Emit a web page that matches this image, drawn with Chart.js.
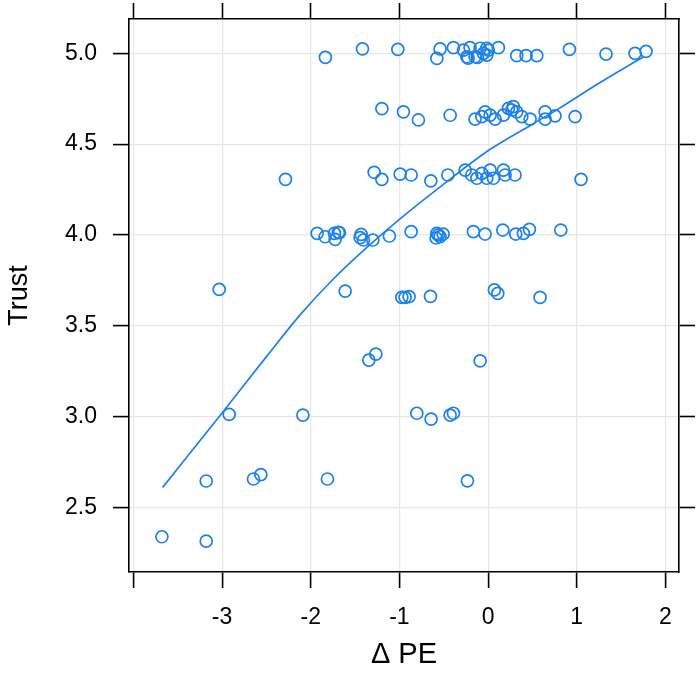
<!DOCTYPE html>
<html>
<head>
<meta charset="utf-8">
<script src="https://cdn.jsdelivr.net/npm/chart.js@4"></script>
<style>
html,body{margin:0;padding:0;background:#fff;}
canvas{display:block;}
</style>
</head>
<body>
<canvas id="c" width="700" height="684"></canvas>
<script>
// ---- data ----
const deltaPE = [
  -1.835, -1.417, -1.018, -0.578, -0.541, -0.391, -0.278, -0.240, -0.203, -0.147, -0.090, -0.053, -0.015, 0.003, -0.015, 0.116, 0.323, 0.428, 0.549, -0.121, -0.225, 0.917, 1.330, 1.657, 1.781,
  -1.198, -0.955, -0.786, -0.428, -0.147, -0.071, -0.034, 0.023, 0.079, 0.173, 0.229, 0.267, 0.285, 0.323, 0.380, 0.474, 0.643, 0.643, 0.755, 0.981,
  -2.285, -1.285, -1.198, -0.992, -0.868, -0.646, -0.454, -0.259, -0.184, -0.127, -0.071, -0.015, 0.023, 0.060, 0.173, 0.192, 0.304, 1.048,
  -1.928, -1.838, -1.733, -1.688, -1.725, -1.676, -1.432, -1.443, -1.406, -1.300, -1.113, -0.868, -0.578, -0.560, -0.541, -0.507, -0.586, -0.166, -0.034, 0.166, 0.312, 0.398, 0.466, 0.820,
  -3.033, -1.612, -0.973, -0.936, -0.891, -0.650, 0.071, 0.109, 0.586,
  -1.266, -1.345, -0.090,
  -2.920, -2.089, -0.804, -0.643, -0.428, -0.391,
  -3.179, -2.646, -2.563, -1.812, -0.233,
  -3.679, -3.179
];
const trust = [
  4.978, 5.025, 5.022, 4.972, 5.024, 5.031, 5.018, 4.981, 5.031, 4.981, 5.028, 5.000, 5.028, 5.018, 4.990, 5.031, 4.987, 4.987, 4.987, 4.978, 4.974, 5.022, 4.996, 5.000, 5.011,
  4.695, 4.678, 4.633, 4.659, 4.638, 4.651, 4.678, 4.660, 4.638, 4.660, 4.697, 4.688, 4.706, 4.678, 4.651, 4.638, 4.678, 4.638, 4.656, 4.651,
  4.306, 4.345, 4.306, 4.335, 4.330, 4.298, 4.330, 4.357, 4.330, 4.312, 4.339, 4.312, 4.357, 4.312, 4.357, 4.330, 4.330, 4.306,
  4.009, 3.990, 4.009, 4.014, 3.976, 4.012, 4.003, 3.985, 3.972, 3.972, 3.994, 4.018, 4.009, 4.000, 3.990, 4.005, 3.983, 4.018, 4.005, 4.027, 4.005, 4.009, 4.031, 4.027,
  3.700, 3.691, 3.656, 3.656, 3.660, 3.662, 3.697, 3.678, 3.656,
  3.344, 3.311, 3.307,
  3.012, 3.008, 3.018, 2.986, 3.008, 3.018,
  2.645, 2.656, 2.680, 2.656, 2.646,
  2.338, 2.314
];
const smoothX = [-3.67, -3.0, -2.5, -2.12, -1.74, -1.37, -0.99, -0.5, 0.02, 0.5, 0.78, 1.2, 1.68, 1.75];
const smoothY = [2.61, 3.02, 3.33, 3.56, 3.76, 3.93, 4.09, 4.28, 4.47, 4.61, 4.69, 4.82, 4.96, 4.98];
const xTickValues = [-4, -3, -2, -1, 0, 1, 2];
const xTickLabels = ['', '-3', '-2', '-1', '0', '1', '2'];
const yTickValues = [2.5, 3.0, 3.5, 4.0, 4.5, 5.0];
const yTickLabels = ['2.5', '3.0', '3.5', '4.0', '4.5', '5.0'];
const xTitle = 'Δ PE';
const yTitle = 'Trust';

// ---- chart ----
const BLUE = '#1a80ec';
const GRID = '#e6e6e6';
const FONT = "'Liberation Sans', Arial, sans-serif";
const X_MIN = -4.05, X_MAX = 2.153, Y_MIN = 2.144, Y_MAX = 5.189;

const pts = deltaPE.map((v, i) => ({x: v, y: trust[i]}));
const curve = smoothX.map((v, i) => ({x: v, y: smoothY[i]}));

function setTicks(values) {
  return s => { s.ticks = values.map(v => ({value: v})); };
}
function labelFrom(values, labels) {
  return (val) => { const i = values.findIndex(v => Math.abs(v - val) < 1e-9); return i >= 0 ? labels[i] : ''; };
}
function fitTo(dim, size) {
  return s => {
    s[dim] = size;
    s.paddingTop = 0; s.paddingBottom = 0; s.paddingLeft = 0; s.paddingRight = 0;
  };
}
const tickFont = {family: FONT, size: 23};
const tickMark = {tickColor: '#000', tickLength: 16, tickWidth: 1.6};

new Chart(document.getElementById('c'), {
  type: 'scatter',
  data: {
    datasets: [
      {data: pts, showLine: false, pointRadius: 6, pointHoverRadius: 6, pointBorderWidth: 1.7,
       pointBorderColor: BLUE, pointBackgroundColor: 'rgba(0,0,0,0)', borderColor: BLUE, backgroundColor: 'rgba(0,0,0,0)'},
      {data: curve, showLine: true, pointRadius: 0, borderColor: BLUE, borderWidth: 1.7,
       cubicInterpolationMode: 'monotone', fill: false}
    ]
  },
  options: {
    responsive: false, animation: false, devicePixelRatio: 1,
    layout: {padding: 0},
    plugins: {legend: {display: false}, tooltip: {enabled: false}},
    scales: {
      x: {
        type: 'linear', position: 'bottom', min: X_MIN, max: X_MAX,
        afterBuildTicks: setTicks(xTickValues),
        afterFit: fitTo('height', 112),
        ticks: {callback: labelFrom(xTickValues, xTickLabels), font: tickFont, color: '#000', padding: 16, maxRotation: 0, autoSkip: false},
        grid: Object.assign({color: GRID, lineWidth: 1.2}, tickMark),
        border: {display: true, color: '#000', width: 1.6},
        title: {display: true, text: xTitle, font: {family: FONT, size: 29}, color: '#000', padding: {top: 0, bottom: 12}}
      },
      x2: {
        type: 'linear', position: 'top', min: X_MIN, max: X_MAX,
        afterBuildTicks: setTicks(xTickValues),
        afterFit: fitTo('height', 19),
        ticks: {display: false},
        grid: Object.assign({drawOnChartArea: false}, tickMark),
        border: {display: true, color: '#000', width: 1.6}
      },
      y: {
        type: 'linear', position: 'left', min: Y_MIN, max: Y_MAX,
        afterBuildTicks: setTicks(yTickValues),
        afterFit: fitTo('width', 129),
        ticks: {callback: labelFrom(yTickValues, yTickLabels), font: tickFont, color: '#000', padding: 16, autoSkip: false},
        grid: Object.assign({color: GRID, lineWidth: 1.2}, tickMark),
        border: {display: true, color: '#000', width: 1.6},
        title: {display: true, text: yTitle, font: {family: FONT, size: 27}, color: '#000', padding: {top: 3, bottom: 0}}
      },
      y2: {
        type: 'linear', position: 'right', min: Y_MIN, max: Y_MAX,
        afterBuildTicks: setTicks(yTickValues),
        afterFit: fitTo('width', 21),
        ticks: {display: false},
        grid: Object.assign({drawOnChartArea: false}, tickMark),
        border: {display: true, color: '#000', width: 1.6}
      }
    }
  }
});
</script>
</body>
</html>
